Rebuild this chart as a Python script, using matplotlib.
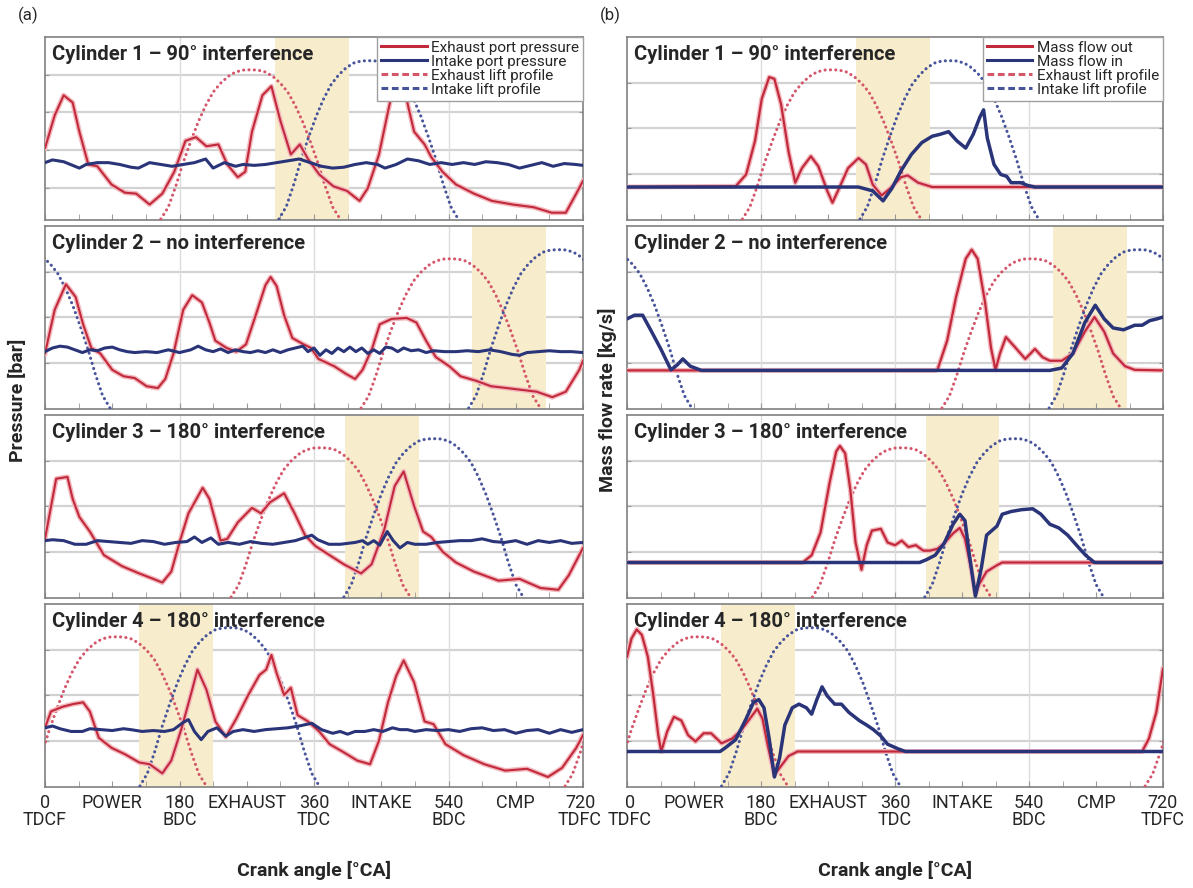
import matplotlib
matplotlib.use('Agg')
import matplotlib.pyplot as plt
import matplotlib.transforms as mtransforms
from matplotlib import font_manager
from matplotlib.lines import Line2D

names = {f.name for f in font_manager.fontManager.ttflist}
if 'Liberation Sans Narrow' in names:
    plt.rcParams['font.family'] = ['Liberation Sans Narrow', 'DejaVu Sans']
elif 'Roboto' in names:
    plt.rcParams['font.family'] = ['Roboto', 'DejaVu Sans']
else:
    plt.rcParams['font.family'] = ['DejaVu Sans']

# ---------------- data ----------------
TICK_POS = [0, 90, 180, 270, 360, 450, 540, 630, 720]
TICK_LABELS_A = ['0\nTDCF', 'POWER', '180\nBDC', 'EXHAUST', '360\nTDC', 'INTAKE', '540\nBDC', 'CMP', '720\nTDFC']
TICK_LABELS_B = ['0\nTDFC', 'POWER', '180\nBDC', 'EXHAUST', '360\nTDC', 'INTAKE', '540\nBDC', 'CMP', '720\nTDFC']
TITLES = ['Cylinder 1 – 90° interference', 'Cylinder 2 – no interference',
          'Cylinder 3 – 180° interference', 'Cylinder 4 – 180° interference']

# valve lift profile (offset from opening [deg], normalised lift)
LIFT_OFFSET = [0, 10, 20, 30, 40, 50, 60, 70, 80, 90, 100, 110, 120,
               130, 140, 150, 160, 170, 180, 190, 200, 210, 220, 230, 240]
LIFT_SHAPE = [0.0, 0.08, 0.22, 0.38, 0.52, 0.65, 0.76, 0.85, 0.91, 0.955, 0.985, 0.998, 1.0,
              0.998, 0.985, 0.955, 0.91, 0.85, 0.76, 0.65, 0.52, 0.38, 0.22, 0.08, 0.0]
EXH_LIFT_PEAK = 0.82
INT_LIFT_PEAK = 0.87
EXH_OPEN = [155, 423, 249, 696]
INT_OPEN = [313, 567, 400, 847]
OVERLAP_START = [308, 572, 402, 126]
OVERLAP_END = [407, 671, 500, 225]

# (a) exhaust port pressure
p_exh_x = [
    [0, 13, 25, 37, 46, 58, 70, 89, 107, 122, 140, 157, 173, 188, 202, 216, 232, 244, 258, 268, 277, 291, 303, 315,
     329, 341, 352, 367, 386, 404, 421, 432, 447, 459, 468, 477, 486, 494, 508, 517, 532, 550, 574, 598, 626, 654,
     678, 697, 711, 720],
    [0, 13, 28, 41, 51, 62, 74, 90, 105, 120, 136, 151, 161, 172, 185, 197, 210, 220, 228, 243, 256, 269, 282, 295,
     302, 310, 320, 331, 346, 356, 366, 387, 402, 415, 425, 438, 448, 464, 484, 497, 510, 523, 541, 556, 577, 597,
     618, 638, 658, 679, 697, 715, 720],
    [0, 15, 30, 37, 46, 60, 79, 103, 126, 145, 157, 169, 180, 192, 211, 220, 235, 244, 258, 277, 289, 301, 320, 334,
     348, 362, 381, 400, 423, 437, 454, 468, 480, 494, 506, 517, 532, 550, 574, 607, 635, 663, 687, 701, 720],
    [0, 8, 23, 37, 51, 60, 72, 89, 107, 126, 140, 157, 169, 183, 197, 204, 216, 228, 242, 256, 272, 287, 296, 303,
     310, 320, 329, 338, 352, 367, 381, 400, 418, 435, 447, 459, 470, 480, 494, 508, 520, 536, 560, 588, 616, 645,
     673, 692, 711, 720],
]
p_exh_y = [
    [0.39, 0.57, 0.68, 0.64, 0.48, 0.30, 0.29, 0.19, 0.145, 0.14, 0.08, 0.14, 0.26, 0.43, 0.45, 0.40, 0.41, 0.30,
     0.23, 0.26, 0.48, 0.68, 0.73, 0.54, 0.355, 0.41, 0.33, 0.245, 0.18, 0.155, 0.10, 0.17, 0.355, 0.59, 0.76, 0.80,
     0.62, 0.48, 0.41, 0.34, 0.26, 0.19, 0.14, 0.10, 0.08, 0.065, 0.035, 0.035, 0.14, 0.21],
    [0.30, 0.54, 0.68, 0.61, 0.46, 0.33, 0.30, 0.21, 0.175, 0.165, 0.12, 0.11, 0.16, 0.30, 0.54, 0.62, 0.58, 0.47,
     0.37, 0.33, 0.31, 0.35, 0.51, 0.675, 0.72, 0.67, 0.51, 0.385, 0.35, 0.33, 0.27, 0.23, 0.19, 0.16, 0.21, 0.33,
     0.46, 0.49, 0.495, 0.47, 0.37, 0.28, 0.23, 0.175, 0.15, 0.12, 0.11, 0.10, 0.09, 0.06, 0.09, 0.21, 0.26],
    [0.32, 0.65, 0.66, 0.54, 0.44, 0.36, 0.23, 0.17, 0.13, 0.10, 0.08, 0.14, 0.30, 0.46, 0.60, 0.54, 0.31, 0.32,
     0.41, 0.49, 0.46, 0.52, 0.57, 0.46, 0.34, 0.28, 0.23, 0.18, 0.13, 0.18, 0.37, 0.61, 0.69, 0.50, 0.36, 0.33,
     0.25, 0.19, 0.14, 0.09, 0.10, 0.05, 0.04, 0.12, 0.27],
    [0.32, 0.41, 0.435, 0.45, 0.46, 0.41, 0.265, 0.21, 0.175, 0.13, 0.12, 0.07, 0.14, 0.32, 0.53, 0.64, 0.53, 0.355,
     0.27, 0.37, 0.50, 0.61, 0.64, 0.72, 0.62, 0.50, 0.54, 0.39, 0.355, 0.30, 0.23, 0.185, 0.14, 0.12, 0.25, 0.46,
     0.605, 0.69, 0.57, 0.355, 0.34, 0.23, 0.17, 0.12, 0.085, 0.095, 0.05, 0.10, 0.21, 0.28],
]
# (a) intake port pressure
p_int_x = [
    [0, 10, 25, 40, 46, 55, 70, 85, 100, 115, 125, 140, 155, 170, 185, 200, 215, 225, 240, 255, 265, 280, 295, 310,
     325, 340, 355, 370, 385, 400, 415, 430, 445, 455, 470, 485, 500, 515, 530, 545, 560, 575, 590, 605, 620, 635,
     650, 665, 680, 695, 710, 720],
    [0, 10, 20, 30, 40, 50, 60, 70, 80, 90, 100, 110, 120, 135, 150, 165, 180, 195, 205, 215, 225, 235, 245, 255,
     265, 275, 285, 295, 305, 315, 325, 335, 345, 352, 360, 368, 376, 384, 392, 400, 408, 416, 424, 432, 440, 448,
     456, 464, 472, 480, 490, 500, 510, 520, 535, 550, 565, 580, 595, 610, 625, 635, 645, 660, 675, 690, 705, 720],
    [0, 10, 25, 40, 55, 70, 85, 100, 115, 130, 145, 160, 175, 190, 200, 210, 222, 232, 245, 260, 275, 290, 305, 320,
     335, 350, 357, 365, 380, 395, 405, 415, 425, 432, 440, 448, 458, 466, 475, 485, 495, 510, 525, 540, 555, 570,
     585, 600, 615, 630, 645, 660, 675, 690, 705, 720],
    [0, 10, 20, 35, 50, 60, 75, 90, 105, 115, 130, 145, 160, 172, 185, 192, 200, 209, 218, 230, 242, 252, 265, 280,
     295, 310, 325, 340, 357, 370, 385, 395, 405, 415, 428, 440, 452, 465, 475, 485, 495, 510, 525, 540, 555, 570,
     585, 600, 615, 630, 645, 660, 675, 690, 705, 720],
]
p_int_y = [
    [0.31, 0.325, 0.315, 0.29, 0.28, 0.30, 0.31, 0.31, 0.30, 0.285, 0.28, 0.31, 0.30, 0.29, 0.30, 0.31, 0.33, 0.28,
     0.31, 0.29, 0.30, 0.295, 0.30, 0.31, 0.32, 0.33, 0.31, 0.29, 0.28, 0.285, 0.30, 0.31, 0.30, 0.28, 0.30, 0.33,
     0.32, 0.30, 0.31, 0.30, 0.31, 0.30, 0.315, 0.31, 0.30, 0.28, 0.295, 0.31, 0.29, 0.305, 0.30, 0.295],
    [0.31, 0.33, 0.34, 0.335, 0.32, 0.305, 0.32, 0.315, 0.33, 0.335, 0.32, 0.31, 0.305, 0.31, 0.305, 0.32, 0.305,
     0.32, 0.34, 0.32, 0.31, 0.325, 0.305, 0.32, 0.31, 0.305, 0.315, 0.305, 0.32, 0.305, 0.32, 0.33, 0.34, 0.31,
     0.33, 0.29, 0.32, 0.30, 0.33, 0.31, 0.335, 0.31, 0.33, 0.30, 0.32, 0.30, 0.335, 0.33, 0.31, 0.33, 0.315, 0.32,
     0.305, 0.315, 0.31, 0.31, 0.315, 0.31, 0.32, 0.31, 0.295, 0.29, 0.305, 0.31, 0.315, 0.31, 0.31, 0.305],
    [0.31, 0.315, 0.31, 0.29, 0.29, 0.31, 0.305, 0.30, 0.295, 0.31, 0.305, 0.29, 0.30, 0.305, 0.33, 0.30, 0.325,
     0.29, 0.30, 0.29, 0.305, 0.295, 0.29, 0.30, 0.31, 0.33, 0.34, 0.315, 0.29, 0.29, 0.295, 0.30, 0.31, 0.29, 0.31,
     0.285, 0.36, 0.31, 0.27, 0.30, 0.29, 0.29, 0.30, 0.305, 0.31, 0.31, 0.32, 0.305, 0.30, 0.31, 0.29, 0.31, 0.30,
     0.31, 0.295, 0.30],
    [0.32, 0.33, 0.315, 0.30, 0.30, 0.315, 0.31, 0.305, 0.315, 0.31, 0.30, 0.305, 0.30, 0.31, 0.35, 0.365, 0.30,
     0.255, 0.30, 0.32, 0.275, 0.30, 0.31, 0.30, 0.31, 0.315, 0.32, 0.33, 0.345, 0.31, 0.29, 0.30, 0.285, 0.30, 0.30,
     0.31, 0.30, 0.32, 0.31, 0.31, 0.30, 0.31, 0.305, 0.31, 0.30, 0.315, 0.32, 0.305, 0.31, 0.29, 0.305, 0.31, 0.29,
     0.31, 0.295, 0.31],
]
# (b) mass flow out
m_out_x = [
    [0, 146, 160, 172, 181, 191, 198, 207, 217, 226, 235, 247, 257, 269, 276, 285, 297, 311, 321, 330, 342, 354, 368,
     377, 391, 410, 720],
    [0, 414, 417, 430, 442, 455, 463, 471, 481, 489, 495, 501, 509, 520, 535, 548, 558, 568, 584, 599, 615, 628, 641,
     653, 669, 682, 720],
    [0, 236, 248, 260, 272, 281, 286, 293, 300, 307, 315, 322, 329, 341, 350, 360, 369, 378, 388, 398, 407, 417, 426,
     438, 447, 454, 462, 468, 473, 483, 497, 504, 720],
    [0, 6, 13, 20, 28, 35, 42, 46, 54, 63, 73, 82, 92, 103, 113, 127, 141, 153, 165, 175, 182, 189, 198, 205, 217,
     229, 692, 701, 711, 720],
]
m_out_y = [
    [0.176, 0.18, 0.245, 0.43, 0.66, 0.78, 0.77, 0.63, 0.37, 0.20, 0.28, 0.345, 0.29, 0.155, 0.09, 0.17, 0.28, 0.335,
     0.30, 0.19, 0.13, 0.17, 0.23, 0.24, 0.20, 0.176, 0.176],
    [0.207, 0.207, 0.21, 0.37, 0.61, 0.82, 0.87, 0.82, 0.58, 0.33, 0.21, 0.30, 0.39, 0.34, 0.27, 0.325, 0.28, 0.26,
     0.26, 0.30, 0.42, 0.50, 0.42, 0.30, 0.23, 0.21, 0.207],
    [0.19, 0.19, 0.23, 0.355, 0.625, 0.80, 0.83, 0.79, 0.59, 0.30, 0.15, 0.285, 0.365, 0.375, 0.30, 0.285, 0.31,
     0.275, 0.285, 0.255, 0.255, 0.265, 0.295, 0.35, 0.38, 0.32, 0.16, 0.015, 0.07, 0.14, 0.175, 0.19, 0.19],
    [0.71, 0.81, 0.86, 0.83, 0.71, 0.51, 0.28, 0.19, 0.30, 0.38, 0.36, 0.28, 0.245, 0.29, 0.29, 0.235, 0.26, 0.305,
     0.37, 0.425, 0.37, 0.225, 0.06, 0.10, 0.165, 0.19, 0.19, 0.26, 0.405, 0.645],
]
# (b) mass flow in
m_in_x = [
    [0, 311, 330, 344, 356, 368, 382, 396, 410, 420, 432, 443, 455, 465, 474, 479, 484, 493, 502, 510, 516, 529, 538,
     548, 720],
    [0, 10, 21, 33, 46, 59, 67, 75, 85, 100, 568, 584, 599, 615, 629, 641, 653, 667, 682, 692, 702, 712, 720],
    [0, 393, 402, 414, 426, 438, 447, 454, 460, 468, 476, 483, 490, 497, 504, 516, 530, 545, 556, 568, 580, 592, 606,
     616, 628, 720],
    [0, 125, 132, 146, 160, 170, 177, 184, 191, 198, 205, 212, 222, 231, 241, 248, 255, 262, 269, 279, 288, 298, 312,
     322, 331, 341, 350, 364, 374, 720],
]
m_in_y = [
    [0.176, 0.176, 0.155, 0.10, 0.17, 0.265, 0.355, 0.42, 0.455, 0.465, 0.48, 0.43, 0.39, 0.465, 0.56, 0.60, 0.445,
     0.30, 0.245, 0.235, 0.20, 0.20, 0.185, 0.176, 0.176],
    [0.49, 0.51, 0.51, 0.42, 0.32, 0.21, 0.235, 0.27, 0.23, 0.207, 0.207, 0.22, 0.30, 0.47, 0.565, 0.49, 0.44, 0.43,
     0.455, 0.455, 0.48, 0.49, 0.50],
    [0.19, 0.19, 0.205, 0.23, 0.295, 0.40, 0.455, 0.42, 0.23, 0.005, 0.16, 0.34, 0.365, 0.39, 0.455, 0.47, 0.48,
     0.485, 0.455, 0.40, 0.38, 0.34, 0.275, 0.23, 0.19, 0.19],
    [0.19, 0.19, 0.21, 0.255, 0.37, 0.46, 0.475, 0.43, 0.26, 0.05, 0.155, 0.335, 0.43, 0.45, 0.43, 0.395, 0.475,
     0.545, 0.495, 0.45, 0.45, 0.405, 0.36, 0.335, 0.31, 0.275, 0.23, 0.205, 0.19, 0.19],
]
GRID_A = [[0.17, 0.38, 0.59, 0.79], [0.25, 0.5, 0.75], [0.25, 0.5, 0.75], [0.25, 0.5, 0.75]]
GRID_B = [[0.25, 0.5, 0.75], [0.25, 0.5, 0.75], [0.25, 0.5, 0.75], [0.25, 0.5, 0.75]]

# ---------------- style ----------------
RED = '#c22a3c'
RED_HALO = '#f2b8be'
NAVY = '#2a3479'
RED_DOT = '#d4566a'
BLUE_DOT = '#47539a'
SHADE = '#f7edcc'
TXT = '#262626'

W, H = 1193, 888
fig = plt.figure(figsize=(W / 100, H / 100), dpi=100)

tops = [37, 226, 415, 604]
ph = 183
cols = [(45, 538), (627, 536)]


def draw_lift(ax, opens, peak, color):
    for k in (-720, 0, 720):
        xs = [opens + o + k for o in LIFT_OFFSET]
        ys = [peak * v for v in LIFT_SHAPE]
        ax.plot(xs, ys, color=color, lw=2.2, linestyle=(0, (0.05, 1.7)), dash_capstyle='round', zorder=3)


def style_axes(ax, grid, last, labels, col):
    ax.set_xlim(0, 720)
    ax.set_ylim(-0.005, 1.0)
    for g in grid:
        ax.axhline(g, color='#d2d2d2', lw=1.6, zorder=0)
    for v in (180, 360, 540):
        ax.axvline(v, color='#dcdcdc', lw=1.0, zorder=0)
    for s in ax.spines.values():
        s.set_color('#808080')
        s.set_linewidth(1.2)
    ax.set_yticks(grid)
    ax.set_yticklabels([])
    ax.tick_params(axis='y', direction='in', length=3, left=True, right=True, color='#999999')
    ax.set_xticks(TICK_POS)
    ax.set_xticks(list(range(0, 721, 45)), minor=True)
    ax.tick_params(axis='x', which='both', direction='in', length=4, color='#999999')
    if last:
        ax.set_xticklabels(labels, fontsize=13, color=TXT, linespacing=0.95)
        ax.tick_params(axis='x', pad=5)
        tl = ax.get_xticklabels()
        if col == 0:
            t = tl[-1]
            t.set_transform(t.get_transform() + mtransforms.ScaledTranslation(-3 / 100, 0, fig.dpi_scale_trans))
        else:
            t = tl[0]
            t.set_transform(t.get_transform() + mtransforms.ScaledTranslation(3 / 100, 0, fig.dpi_scale_trans))
    else:
        ax.set_xticklabels([])


for col in range(2):
    x0, w = cols[col]
    for i in range(4):
        bottom = 1 - (tops[i] + ph) / H
        ax = fig.add_axes([x0 / W, bottom, w / W, ph / H])
        ax.axvspan(OVERLAP_START[i], OVERLAP_END[i], color=SHADE, zorder=0.5, lw=0)
        draw_lift(ax, EXH_OPEN[i], EXH_LIFT_PEAK, RED_DOT)
        draw_lift(ax, INT_OPEN[i], INT_LIFT_PEAK, BLUE_DOT)
        if col == 0:
            ax.plot(p_exh_x[i], p_exh_y[i], color=RED_HALO, lw=3.6, zorder=4, solid_joinstyle='round')
            ax.plot(p_exh_x[i], p_exh_y[i], color=RED, lw=1.5, zorder=5, solid_joinstyle='round')
            ax.plot(p_int_x[i], p_int_y[i], color=NAVY, lw=2.2, zorder=6, solid_joinstyle='round')
            style_axes(ax, GRID_A[i], i == 3, TICK_LABELS_A, col)
        else:
            ax.plot(m_out_x[i], m_out_y[i], color=RED_HALO, lw=3.6, zorder=4, solid_joinstyle='round')
            ax.plot(m_out_x[i], m_out_y[i], color=RED, lw=1.6, zorder=5, solid_joinstyle='round')
            ax.plot(m_in_x[i], m_in_y[i], color=NAVY, lw=2.5, zorder=6, solid_joinstyle='round')
            style_axes(ax, GRID_B[i], i == 3, TICK_LABELS_B, col)
        ax.text(0.013, 0.905, TITLES[i], transform=ax.transAxes, fontsize=14.5, fontweight='bold',
                color=TXT, ha='left', va='center', zorder=10)
        if i == 0:
            if col == 0:
                labs = ['Exhaust port pressure', 'Intake port pressure', 'Exhaust lift profile', 'Intake lift profile']
            else:
                labs = ['Mass flow out', 'Mass flow in', 'Exhaust lift profile', 'Intake lift profile']
            handles = [Line2D([], [], color=RED, lw=2.2), Line2D([], [], color=NAVY, lw=2.2),
                       Line2D([], [], color=RED_DOT, lw=2.2, linestyle=(0, (2.2, 1.2))),
                       Line2D([], [], color=BLUE_DOT, lw=2.2, linestyle=(0, (2.2, 1.2)))]
            leg = ax.legend(handles, labs, loc='upper right', fontsize=11, frameon=True, fancybox=False,
                            borderaxespad=0.0, handlelength=3.0, handletextpad=0.3, labelspacing=0.0,
                            borderpad=0.25, framealpha=1.0)
            leg.get_frame().set_edgecolor('#a0a0a0')
            leg.get_frame().set_linewidth(1.0)
            leg.set_zorder(20)
            for t in leg.get_texts():
                t.set_color(TXT)

fig.text(18 / W, 1 - 15 / H, '(a)', fontsize=12, color=TXT, ha='left', va='center')
fig.text(600 / W, 1 - 15 / H, '(b)', fontsize=12, color=TXT, ha='left', va='center')
fig.text(18 / W, 1 - 400 / H, 'Pressure [bar]', rotation=90, fontsize=14, fontweight='bold', color=TXT,
         ha='center', va='center')
fig.text(607 / W, 1 - 400 / H, 'Mass flow rate [kg/s]', rotation=90, fontsize=14, fontweight='bold', color=TXT,
         ha='center', va='center')
fig.text((45 + 538 / 2) / W, 1 - 870 / H, 'Crank angle [°CA]', fontsize=14, fontweight='bold', color=TXT,
         ha='center', va='center')
fig.text((627 + 536 / 2) / W, 1 - 870 / H, 'Crank angle [°CA]', fontsize=14, fontweight='bold', color=TXT,
         ha='center', va='center')

fig.savefig('out.png', dpi=100)
